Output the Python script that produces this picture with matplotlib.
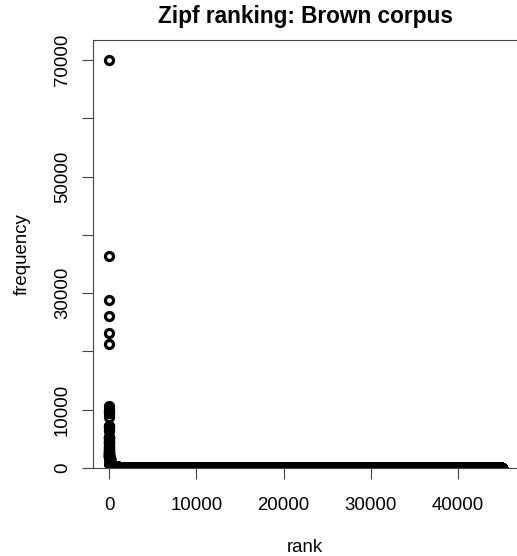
import matplotlib
matplotlib.use("Agg")
import matplotlib.pyplot as plt
import numpy as np

plt.rcParams['font.family'] = ['Liberation Sans', 'DejaVu Sans']

# most frequent words of the Brown corpus (lower-cased), in rank order
top_freqs = [69971, 36412, 28853, 26158, 23195, 21337, 10594, 10109, 9815, 9548,
             9489, 8760, 7289, 7253, 6996, 6741, 6377, 5372, 5306, 5164,
             5145, 5133, 4610, 4394, 4381, 4370, 4206, 3942, 3740, 3620,
             3561, 3292, 3286, 3284, 3036, 3001, 2860, 2728, 2714, 2669,
             2652, 2619, 2472, 2439, 2331, 2252, 2245, 2215, 2207, 2199,
             2096, 1985, 1961, 1908, 1890, 1858, 1815, 1791, 1790, 1789,
             1772, 1748, 1702, 1635, 1617, 1601, 1598, 1573, 1412, 1402,
             1380, 1363, 1361, 1345, 1319, 1314, 1303, 1292, 1252, 1236,
             1207, 1181, 1170, 1160, 1125, 1070, 1069, 1044, 1030, 1013,
             1011, 969, 966, 950, 938, 937, 925, 923, 897, 895,
             888, 883, 877, 872, 850, 847, 839, 836, 831, 831,
             807, 806, 796, 794, 787, 782, 772]

# frequency spectrum of the remaining words: (frequency, number of words)
tail_freq = [600, 400, 250, 150, 100, 70, 45, 30, 20, 15, 12,
             10, 9, 8, 7, 6, 5, 4, 3, 2, 1]
tail_count = [60, 130, 200, 250, 350, 500, 700, 1000, 900, 800, 850,
              500, 600, 750, 900, 1100, 1500, 2200, 3400, 6500, 21700]

freqs = np.concatenate([top_freqs, np.repeat(tail_freq, tail_count)])
ranks = np.arange(1, len(freqs) + 1)

fig = plt.figure(figsize=(5.17, 5.56), dpi=100)
ax = fig.add_axes([93 / 517, 88 / 556, 424.5 / 517, 428 / 556])

ax.plot(ranks, freqs, linestyle='none', marker='o', markersize=5.8,
        markerfacecolor='none', markeredgecolor='black', markeredgewidth=2.3)

ax.set_xlim(-1833, 46793)
ax.set_ylim(0, 73420)

ax.set_xticks([0, 10000, 20000, 30000, 40000])
ax.set_xticklabels(['0', '10000', '20000', '30000', '40000'])
yt = [0, 10000, 20000, 30000, 40000, 50000, 60000, 70000]
ax.set_yticks(yt)
ax.set_yticklabels(['0', '10000', '', '30000', '', '50000', '', '70000'],
                   rotation=90, va='center')

ax.tick_params(axis='both', direction='out', length=7.8, width=0.8,
               color='#444444', labelsize=13.4)
ax.tick_params(axis='x', pad=13)
ax.tick_params(axis='y', pad=8)

for side in ['left', 'top', 'bottom']:
    ax.spines[side].set_color('#444444')
    ax.spines[side].set_linewidth(0.8)
ax.spines['right'].set_visible(False)

ax.set_title('Zipf ranking: Brown corpus', fontsize=16.3, fontweight='bold', pad=12)
ax.set_xlabel('rank', fontsize=13.4, labelpad=18)
ax.set_ylabel('frequency', fontsize=13.4, labelpad=17)

fig.savefig('out.png', dpi=100)
